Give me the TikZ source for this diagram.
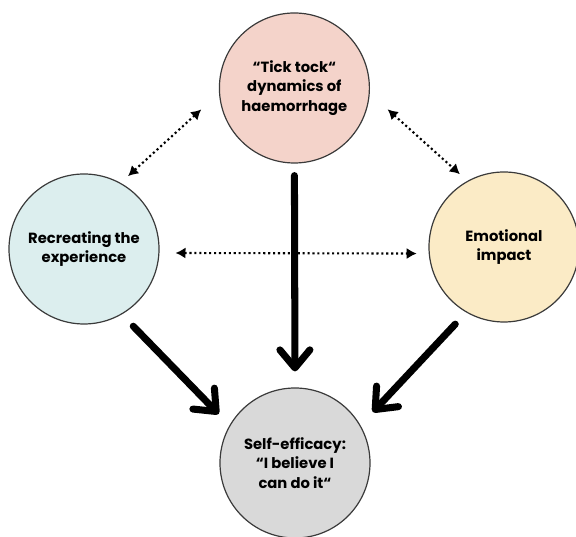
\documentclass[tikz,border=0pt]{standalone}
\usepackage{fontspec}
\setmainfont{Poppins}
\usetikzlibrary{arrows.meta}
\tikzset{>=Stealth}
\definecolor{tickpink}{HTML}{F4D3CA}
\definecolor{recyan}{HTML}{DCEEEE}
\definecolor{emoyellow}{HTML}{FBEBC6}
\definecolor{selfgray}{HTML}{D9D9D9}
\definecolor{rimgray}{HTML}{3A3A3A}
\tikzset{
	bubble/.style={circle, draw=rimgray, line width=0.85pt, minimum size=3.75cm, inner sep=0pt, align=center, font=\fontsize{10.5}{14}\selectfont\bfseries},
	bigarrow/.style={line width=5pt, line cap=round, -{Straight Barb[round, length=0.45cm, width=0.75cm]}},
	dotlink/.style={line width=1.5pt, dash pattern=on 1.5pt off 2pt, {Latex[length=0.25cm, width=0.28cm]}-{Latex[length=0.25cm, width=0.28cm]}}
}

\begin{document}
\begin{tikzpicture}
	\useasboundingbox (0,0) rectangle (14.4,13.425);
	% the four circles
	\node[bubble, fill=tickpink] (tick) at (7.36,11.225) {“Tick tock“\\dynamics of\\haemorrhage};
	\node[bubble, fill=recyan] (recreate) at (2.1,7.2) {Recreating the\\experience};
	\node[bubble, fill=emoyellow] (emotion) at (12.6,7.25) {Emotional\\impact};
	\node[bubble, fill=selfgray] (selfeff) at (7.375,1.85) {Self-efficacy:\\“I believe I\\can do it“};
	% dotted two-way links
	\draw[dotlink, shorten <=0.6cm, shorten >=0.25cm] (tick.184) -- (recreate.61);
	\draw[dotlink, shorten <=0.6cm, shorten >=0.25cm] (tick.-4) -- (emotion.119);
	\draw[dotlink, shorten <=0.4cm, shorten >=0.3cm] (recreate.-3) -- (emotion.185);
	% thick arrows into self-efficacy
	\draw[bigarrow, shorten <=0.3cm, shorten >=0.4cm] (tick.south) -- (selfeff.north);
	\draw[bigarrow, shorten <=0.41cm, shorten >=0.39cm] (recreate.-60) -- (selfeff.150);
	\draw[bigarrow, shorten <=0.4cm, shorten >=0.45cm] (emotion.-120) -- (selfeff.30);
\end{tikzpicture}
\end{document}
